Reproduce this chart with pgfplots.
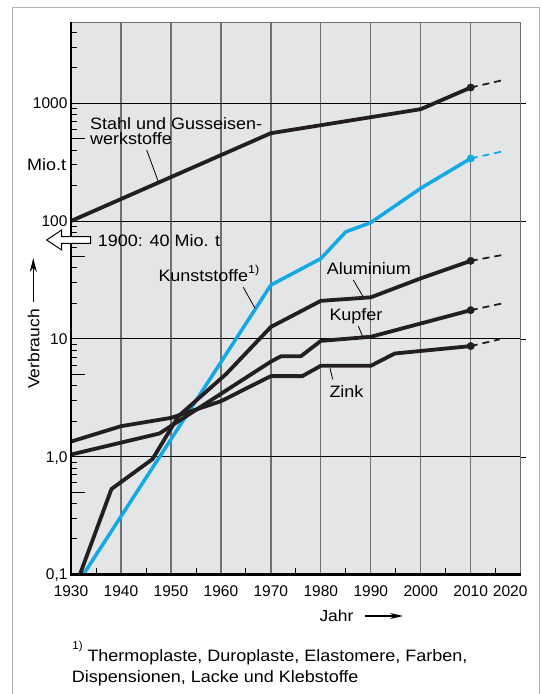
\documentclass[border=0pt]{standalone}
\usepackage{fontspec}
\setmainfont{Liberation Sans}
\newfontfamily\labfont[FakeStretch=1.09]{Liberation Sans}
\usepackage{pgfplots}
\pgfplotsset{compat=1.18}
\usetikzlibrary{arrows.meta}
\definecolor{bg}{HTML}{E4E5E7}
\definecolor{kblue}{HTML}{12A9E6}
\definecolor{gridg}{HTML}{707070}
\definecolor{frameg}{HTML}{B2B2B2}
\definecolor{lk}{HTML}{231F20}
\newcommand{\lab}{\labfont\fontsize{16.5}{18}\selectfont}
\newcommand{\axlab}{\labfont\fontsize{16}{18}\selectfont}
\begin{document}
\begin{tikzpicture}[x=1pt,y=1pt]
\useasboundingbox (0,0) rectangle (543,694);
\draw[frameg, line width=1.4pt] (12.2,-5) -- (12.2,686.7) -- (539.3,686.7) -- (539.3,-5);
\begin{axis}[
  at={(71pt,119.7pt)}, anchor=south west, scale only axis,
  width=449.7pt, height=552.3pt,
  xmin=1930, xmax=2020, ymode=log, ymin=0.1, ymax=4900,
  axis background/.style={fill=bg},
  axis line style={gridg, line width=0.9pt},
  xtick={1930,1940,1950,1960,1970,1980,1990,2000,2010},
  xticklabels={1930,1940,1950,1960,1970,1980,1990,2000,2010},
  minor xtick={1935,1945,1955,1965,1975,1985,1995,2005,2015},
  extra x ticks={2020}, extra x tick labels={2020},
  extra x tick style={grid=none, xticklabel style={xshift=-10.5pt}},
  ytick={0.1,1,10,100,1000},
  yticklabels={{0,1},{1,0},10,100,1000},
  minor ytick={0.2,0.3,0.4,0.6,0.7,0.8,0.9,2,3,4,6,7,8,9,20,30,40,60,70,80,90,200,300,400,600,700,800,900,2000,3000,4000},
  extra y ticks={0.5,5,50,500},
  extra y tick labels={},
  extra y tick style={grid=none, major tick length=14pt},
  tick align=inside, xtick pos=bottom, ytick pos=left,
  major tick length=0pt, minor tick length=6pt,
  tick style={black, line width=0.8pt},
  xmajorgrids, ymajorgrids,
  x grid style={gridg, line width=1.3pt},
  y grid style={black, line width=0.8pt},
  tick label style={font=\fontsize{15.5}{17}\selectfont},
  xticklabel style={anchor=base, yshift=-22.4pt},
  yticklabel style={anchor=base east, yshift=-5.6pt},
]
% Stahl
\addplot[lk, line width=3.8pt, line join=round] table {
1930 100
1970 557
2000 891
2010 1361
};
\addplot[lk, line width=1.8pt, dash pattern=on 7pt off 5pt] table {
2010 1361
2017 1592
};
% Kunststoffe
\addplot[kblue, line width=3.5pt, line join=round] table {
1932.5 0.1
1970 28.6
1980 48
1985 81
1990 97
2000 190
2010 340
};
\addplot[kblue, line width=1.8pt, dash pattern=on 7pt off 5pt] table {
2010 340
2016.8 394
};
% Aluminium
\addplot[lk, line width=3.8pt, line join=round] table {
1931.8 0.1
1938.1 0.53
1946.3 0.95
1951.5 2.2
1961 5.0
1970 12.6
1980 21
1990 22.5
2000 32.6
2010 45.9
};
\addplot[lk, line width=1.8pt, dash pattern=on 7pt off 5pt] table {
2010 45.9
2016.9 52
};
% Kupfer
\addplot[lk, line width=3.8pt, line join=round] table {
1930 1.04
1947.7 1.57
1970 6.4
1972 7.1
1976 7.1
1980 9.6
1990 10.4
2010 17.5
};
\addplot[lk, line width=1.8pt, dash pattern=on 7pt off 5pt] table {
2010 17.5
2016.9 20.2
};
% Zink
\addplot[lk, line width=3.8pt, line join=round] table {
1930 1.34
1940 1.81
1950 2.13
1960 2.95
1970 4.82
1976.3 4.82
1980 5.9
1990 5.9
1994.8 7.5
2010 8.67
};
\addplot[lk, line width=1.8pt, dash pattern=on 7pt off 5pt] table {
2010 8.67
2015.8 9.9
};
% Punkte 2010
\addplot[only marks, mark=*, mark size=3.7pt, lk] coordinates {(2010,1361) (2010,45.9) (2010,17.5) (2010,8.67)};
\addplot[only marks, mark=*, mark size=3.7pt, kblue, mark options={draw=kblue, fill=kblue}] coordinates {(2010,340)};
\end{axis}
% axis lines left/bottom
\draw[black, line width=2.6pt] (71,672) -- (71,119.7) -- (520.7,119.7);
\foreach \yy in {590.7,473,355,237} \draw[black, line width=0.8pt] (520.7,\yy) -- (525.7,\yy);
% arrow 1900
\draw[black, line width=1pt, fill=white] (46.7,454) -- (61.7,464) -- (61.7,457.3) -- (90.7,457.3) -- (90.7,450.7) -- (61.7,450.7) -- (61.7,444) -- cycle;
\node[anchor=base west, inner sep=0, font=\lab] at (97.7,447.3) {1900: 40 Mio. t};
% labels
\node[anchor=base west, inner sep=0, font=\lab] at (90,564.3) {Stahl und Gusseisen-};
\node[anchor=base west, inner sep=0, font=\lab] at (90,549) {werkstoffe};
\draw[black, line width=0.8pt] (146.7,544) -- (158.3,512.3);
\node[anchor=base west, inner sep=0, font=\lab] at (27,523.3) {Mio.t};
\node[anchor=base west, inner sep=0, font=\lab] at (158.3,412.3) {Kunststoffe\raisebox{8pt}{\fontsize{11.5}{12}\selectfont 1)}};
\draw[black, line width=0.8pt] (243.3,406.7) -- (255,385.7);
\node[anchor=base west, inner sep=0, font=\lab] at (326.7,419) {Aluminium};
\draw[black, line width=0.8pt] (353.3,414) -- (362.7,398);
\node[anchor=base west, inner sep=0, font=\lab] at (329.3,373) {Kupfer};
\draw[black, line width=0.8pt] (358.3,368) -- (362.7,357.3);
\node[anchor=base west, inner sep=0, font=\lab] at (329.3,296.7) {Zink};
\draw[black, line width=0.8pt] (330,325.7) -- (332.7,314.7);
% axis titles
\node[anchor=base, inner sep=0, rotate=90, font=\axlab] at (39.3,345) {Verbrauch};
\draw[black, line width=1.3pt, -{Stealth[length=14pt,width=7pt]}] (33.3,392.3) -- (33.3,436);
\node[anchor=base west, inner sep=0, font=\axlab] at (319.3,72.3) {Jahr};
\draw[black, line width=1.3pt, -{Stealth[length=13pt,width=6pt]}] (365,78) -- (403,78);
% footnote
\node[anchor=base west, inner sep=0, font=\fontsize{11.5}{12}\selectfont] at (72.2,44) {1)};
\node[anchor=base west, inner sep=0, font=\lab] at (87.3,32.7) {Thermoplaste, Duroplaste, Elastomere, Farben,};
\node[anchor=base west, inner sep=0, font=\lab] at (71.7,11) {Dispensionen, Lacke und Klebstoffe};
\end{tikzpicture}
\end{document}
